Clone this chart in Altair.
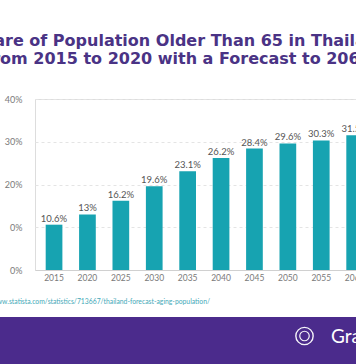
import altair as alt
import pandas as pd

# ---- data ----
years = ["2015", "2020", "2025", "2030", "2035", "2040", "2045", "2050", "2055", "2060"]
shares = [10.6, 13.0, 16.2, 19.6, 23.1, 26.2, 28.4, 29.6, 30.3, 31.5]
value_labels = ["10.6%", "13%", "16.2%", "19.6%", "23.1%", "26.2%", "28.4%", "29.6%", "30.3%", "31.5%"]
y_ticks = [0, 10, 20, 30, 40]
y_tick_labels = ["0%", "0%", "20%", "30%", "40%"]
title_line1 = "Share of Population Older Than 65 in Thailand"
title_line2 = "from 2015 to 2020 with a Forecast to 2060"
source_text = "Source: https://www.statista.com/statistics/713667/thailand-forecast-aging-population/"
brand = "Gra"

TEAL = "#17a3b1"
PURPLE = "#4b2b8c"
TITLE_PURPLE = "#4a3385"
FONT = "Lato"
TITLE_FONT = "DejaVu Sans"

df = pd.DataFrame({"year": years, "share": shares, "label": value_labels})
one = pd.DataFrame({"k": [0]})

label_expr = "[" + ",".join("'" + s + "'" for s in y_tick_labels) + "][datum.value / 10]"

base = alt.Chart(df).encode(
    x=alt.X(
        "year:N",
        sort=years,
        scale=alt.Scale(range=[0, 338.7], paddingInner=0.5, paddingOuter=0.32),
        axis=alt.Axis(
            title=None, labelAngle=0, ticks=False, domainColor="#d0d0d0", domainWidth=1,
            labelColor="#7a7a7a", labelFont=FONT, labelFontSize=8.5, labelPadding=3,
            grid=False,
        ),
    ),
    y=alt.Y(
        "share:Q",
        scale=alt.Scale(domain=[0, 40], nice=False),
        axis=alt.Axis(
            title=None, values=y_ticks, labelExpr=label_expr, domain=False, ticks=False,
            grid=True, gridDash=[3, 3], gridColor="#e4e4e4", gridWidth=1,
            labelPadding=13, labelColor="#7a7a7a", labelFont=FONT, labelFontSize=9,
        ),
    ),
)

bars = base.mark_bar(color=TEAL)
labels = base.mark_text(dy=-3, baseline="alphabetic", font=FONT, fontSize=9.5, color="#555555").encode(
    text="label:N"
)

t1 = alt.Chart(one).mark_text(
    font=TITLE_FONT, fontSize=16, fontWeight="bold", color=TITLE_PURPLE, align="center", baseline="alphabetic"
).encode(x=alt.value(145), y=alt.value(-53.3), text=alt.value(title_line1))
t2 = alt.Chart(one).mark_text(
    font=TITLE_FONT, fontSize=16, fontWeight="bold", color=TITLE_PURPLE, align="center", baseline="alphabetic"
).encode(x=alt.value(143), y=alt.value(-34.7), text=alt.value(title_line2))

src = alt.Chart(one).mark_text(
    font=FONT, fontSize=6.8, color="#45a9b8", align="right", baseline="middle"
).encode(x=alt.value(175), y=alt.value(203), text=alt.value(source_text))

banner = alt.Chart(one).mark_rect(color=PURPLE).encode(
    x=alt.value(-35), x2=alt.value(321), y=alt.value(218), y2=alt.value(265)
)
logo_outer = alt.Chart(one).mark_point(
    shape="circle", filled=False, stroke="white", strokeWidth=1.4, size=300, opacity=0.95
).encode(x=alt.value(269.5), y=alt.value(237))
logo_inner = alt.Chart(one).mark_point(
    shape="circle", filled=False, stroke="white", strokeWidth=1.2, size=90, opacity=0.95
).encode(x=alt.value(269.5), y=alt.value(237))
brand_text = alt.Chart(one).mark_text(
    font=FONT, fontSize=19, color="white", align="left", baseline="middle"
).encode(x=alt.value(296), y=alt.value(238), text=alt.value(brand))

chart = alt.layer(
    bars, labels, t1, t2, src, banner, logo_outer, logo_inner, brand_text
).properties(
    width=321, height=171,
    autosize=alt.AutoSizeParams(type="none"),
    padding={"left": 35, "top": 99, "right": 0, "bottom": 94},
).configure_view(stroke=None).configure(background="white")

chart.save("out.html", embed_options={"renderer": "svg", "actions": False})
